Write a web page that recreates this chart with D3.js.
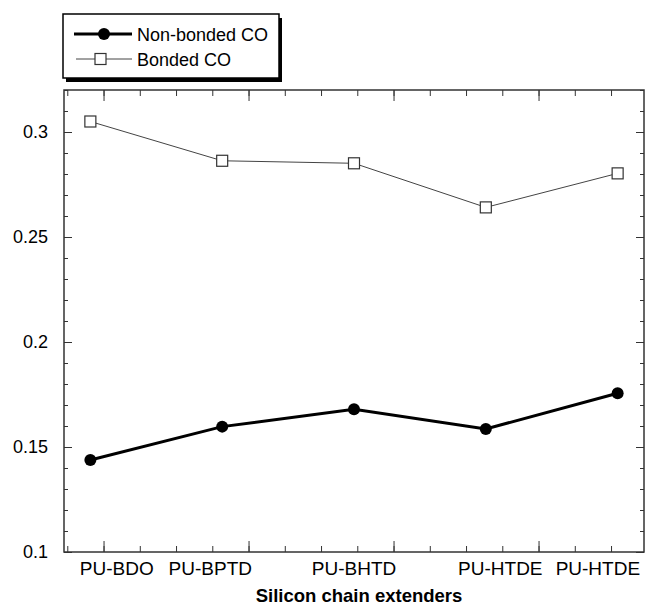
<!DOCTYPE html>
<html>
<head>
<meta charset="utf-8">
<script src="https://cdn.jsdelivr.net/npm/d3@7"></script>
<style>
  body { margin: 0; background: #fff; }
  svg { font-family: "Liberation Sans", Arial, Helvetica, sans-serif; }
</style>
</head>
<body>
<svg id="chart" width="647" height="607"></svg>
<script>
// extenders on the x axis
const categories = ['PU-BDO', 'PU-BPTD', 'PU-BHTD', 'PU-HTDE', 'PU-HTDE'];
// where each category label sits (in x-axis units, points sit at 1..5)
const labelAt = [1.2, 1.91, 3.0, 4.11, 4.85];
const nonBonded = [0.1438, 0.1597, 0.168, 0.1586, 0.1756];
const bonded = [0.305, 0.2863, 0.2851, 0.2641, 0.2803];
const yTickLabels = ['0.1', '0.15', '0.2', '0.25', '0.3'];

const svg = d3.select('#chart');
const m = { left: 64, top: 90, right: 3, bottom: 55 };
const W = 647 - m.left - m.right;
const H = 607 - m.top - m.bottom;

const x = d3.scaleLinear().domain([0.8, 5.2]).range([0, W]);
const y = d3.scaleLinear().domain([0.1, 0.32]).range([H, 0]);

const g = svg.append('g').attr('transform', `translate(${m.left},${m.top})`);

// ticks
const yMinor = d3.range(0, 23).map(i => 0.1 + i * 0.01).filter(v => v <= 0.32 + 1e-9);
const yMajor = yTickLabels.map(Number);
const xMinor = d3.range(-1, 16).map(i => 1.1 + i * 0.275).filter(v => v > 0.8 && v < 5.2);
const xMajor = [1.1, 2.2, 3.3, 4.4];

const tickStroke = '#333';
g.append('g').attr('class', 'y-left')
  .call(d3.axisLeft(y).tickValues(yMinor).tickSize(-4).tickFormat(''))
  .call(a => a.select('.domain').remove());
g.append('g').attr('class', 'y-left-major')
  .call(d3.axisLeft(y).tickValues(yMajor).tickSize(-8).tickPadding(16)
    .tickFormat((d, i) => yTickLabels[i]))
  .call(a => a.select('.domain').remove());
g.append('g').attr('transform', `translate(${W},0)`)
  .call(d3.axisRight(y).tickValues(yMinor).tickSize(-4).tickFormat(''))
  .call(a => a.select('.domain').remove());
g.append('g').attr('transform', `translate(${W},0)`)
  .call(d3.axisRight(y).tickValues(yMajor).tickSize(-8).tickFormat(''))
  .call(a => a.select('.domain').remove());

g.append('g').attr('transform', `translate(0,${H})`)
  .call(d3.axisBottom(x).tickValues(xMinor).tickSize(-6).tickFormat(''))
  .call(a => a.select('.domain').remove());
g.append('g').attr('transform', `translate(0,${H})`)
  .call(d3.axisBottom(x).tickValues(xMajor).tickSize(-11).tickFormat(''))
  .call(a => a.select('.domain').remove());
g.append('g')
  .call(d3.axisTop(x).tickValues(xMinor).tickSize(-6).tickFormat(''))
  .call(a => a.select('.domain').remove());
g.append('g')
  .call(d3.axisTop(x).tickValues(xMajor).tickSize(-11).tickFormat(''))
  .call(a => a.select('.domain').remove());

g.selectAll('.tick line').attr('stroke', tickStroke).attr('stroke-width', 1);
g.selectAll('.tick text').attr('font-size', 18).attr('fill', '#000')
  .attr('font-family', '"Liberation Sans", Arial, sans-serif');

// frame
g.append('rect').attr('width', W).attr('height', H)
  .attr('fill', 'none').attr('stroke', '#333').attr('stroke-width', 1.5);

// category labels
g.selectAll('.cat').data(categories).join('text')
  .attr('class', 'cat')
  .attr('x', (d, i) => x(labelAt[i]))
  .attr('y', H + 23)
  .attr('text-anchor', 'middle')
  .attr('font-size', 19)
  .text(d => d);

// axis title
g.append('text')
  .attr('x', W / 2 + 5)
  .attr('y', H + 50)
  .attr('text-anchor', 'middle')
  .attr('font-size', 18.5)
  .attr('font-weight', 'bold')
  .text('Silicon chain extenders');

const line = d3.line().x((d, i) => x(i + 1)).y(d => y(d));

// Bonded CO
g.append('path').datum(bonded)
  .attr('d', line).attr('fill', 'none')
  .attr('stroke', '#444').attr('stroke-width', 1);
g.selectAll('.sq').data(bonded).join('rect')
  .attr('class', 'sq')
  .attr('x', (d, i) => x(i + 1) - 5.5)
  .attr('y', d => y(d) - 5.5)
  .attr('width', 11).attr('height', 11)
  .attr('fill', '#fff').attr('stroke', '#333').attr('stroke-width', 1.2);

// Non-bonded CO
g.append('path').datum(nonBonded)
  .attr('d', line).attr('fill', 'none')
  .attr('stroke', '#000').attr('stroke-width', 3);
g.selectAll('.dot').data(nonBonded).join('circle')
  .attr('class', 'dot')
  .attr('cx', (d, i) => x(i + 1))
  .attr('cy', d => y(d))
  .attr('r', 6).attr('fill', '#000');

// legend
const lg = svg.append('g').attr('transform', 'translate(63,14)');
lg.append('rect').attr('x', 3).attr('y', 4).attr('width', 216).attr('height', 64).attr('fill', '#000');
lg.append('rect').attr('width', 216).attr('height', 64)
  .attr('fill', '#fff').attr('stroke', '#000').attr('stroke-width', 1.5);
lg.append('line').attr('x1', 11).attr('x2', 69).attr('y1', 20).attr('y2', 20)
  .attr('stroke', '#000').attr('stroke-width', 3);
lg.append('circle').attr('cx', 41).attr('cy', 20).attr('r', 6).attr('fill', '#000');
lg.append('text').attr('x', 74).attr('y', 27).attr('font-size', 18).text('Non-bonded CO');
lg.append('line').attr('x1', 13).attr('x2', 69).attr('y1', 45).attr('y2', 45)
  .attr('stroke', '#444').attr('stroke-width', 1);
lg.append('rect').attr('x', 32).attr('y', 39.5).attr('width', 11).attr('height', 11)
  .attr('fill', '#fff').attr('stroke', '#333').attr('stroke-width', 1.2);
lg.append('text').attr('x', 74).attr('y', 52).attr('font-size', 18).text('Bonded CO');
</script>
</body>
</html>
